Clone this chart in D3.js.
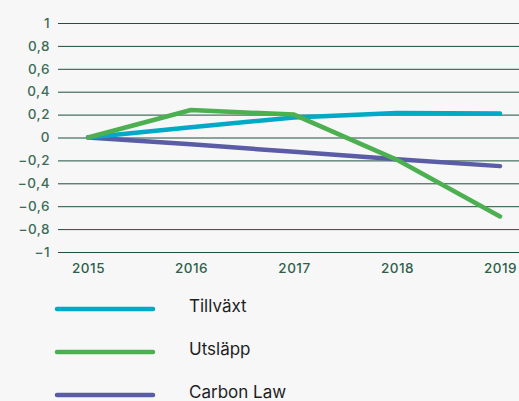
<!DOCTYPE html>
<html><head><meta charset="utf-8">
<script src="https://cdn.jsdelivr.net/npm/d3@7"></script>
<style>
html,body{margin:0;padding:0;background:#f7f7f7;}
svg{display:block;}
</style></head>
<body>
<svg id="c" width="519" height="401"></svg>
<script>
const years = ["2015","2016","2017","2018","2019"];
const yTicks = [1,0.8,0.6,0.4,0.2,0,-0.2,-0.4,-0.6,-0.8,-1];
const seriesNames = ["Tillväxt","Utsläpp","Carbon Law"];
const tillvaxt = [0, 0.09, 0.175, 0.215, 0.21];
const utslapp = [0, 0.24, 0.20, -0.195, -0.69];
const carbonLaw = [0, -0.06, -0.125, -0.19, -0.25];
const colors = ["#00a9c5","#4caf50","#5a5ca6"];

const FONT = "Inter, 'Noto Sans', sans-serif";
const svg = d3.select("#c");
const x = d3.scalePoint().domain(years).range([88, 500]);
const y = d3.scaleLinear().domain([-1, 1]).range([252, 23]);

const yAxis = svg.append("g").attr("transform","translate(58,0)")
  .call(d3.axisRight(y).tickValues(yTicks).tickSize(461).tickFormat(""));
yAxis.select(".domain").remove();
yAxis.selectAll("line").attr("stroke","#1f4f3d").attr("stroke-width",1);

svg.append("g").selectAll("text").data(yTicks).join("text")
  .attr("x", 50).attr("y", d => y(d)).attr("dy","0.35em")
  .attr("text-anchor","end")
  .attr("font-family",FONT).attr("font-size",13.5).attr("font-weight",500)
  .attr("letter-spacing","0.5px")
  .attr("fill","#3d6b57")
  .text(d => d===0 ? "0" : (d<0 ? "\u2212" : "") + String(Math.abs(d)).replace(".", ","));

const xAxis = svg.append("g").attr("transform","translate(0,268)")
  .call(d3.axisBottom(x).tickSize(0).tickPadding(0));
xAxis.select(".domain").remove();
xAxis.selectAll("text").attr("font-family",FONT).attr("font-size",13.5).attr("font-weight",500)
  .attr("letter-spacing","0.5px")
  .attr("fill","#2f5f4b").attr("dy","0.35em");

const data = [tillvaxt, utslapp, carbonLaw];
const line = d3.line().x((d,i) => x(years[i])).y(d => y(d));
[2,0,1].forEach(k => {
  svg.append("path").attr("d", line(data[k])).attr("fill","none")
    .attr("stroke", colors[k]).attr("stroke-width",4.5)
    .attr("stroke-linecap","round").attr("stroke-linejoin","round");
});

const leg = svg.append("g");
const legY = [309, 352, 395];
seriesNames.forEach((n,i) => {
  leg.append("line").attr("x1",57).attr("x2",153).attr("y1",legY[i]).attr("y2",legY[i])
    .attr("stroke",colors[i]).attr("stroke-width",4.5).attr("stroke-linecap","round");
  leg.append("text").attr("x",189).attr("y",legY[i]-3).attr("dy","0.35em")
    .attr("font-family",FONT).attr("font-size",17).attr("font-weight",400)
    .attr("fill","#1e1e1e").text(n);
});
</script>
</body></html>
